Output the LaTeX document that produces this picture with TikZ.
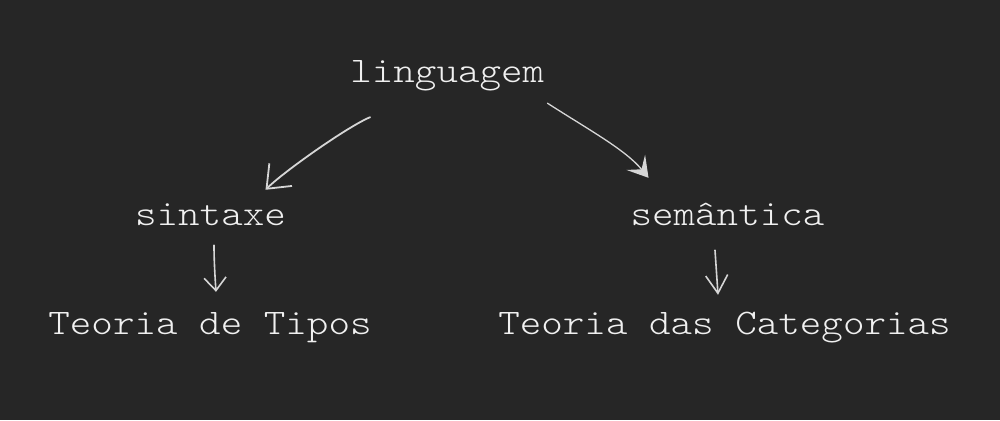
\documentclass[tikz,border=0pt]{standalone}
\usepackage{fontspec}
\setmonofont{Latin Modern Mono Light}[FakeStretch=1.14]
\usepackage{tikz}
\usetikzlibrary{positioning,arrows.meta,calc}
\definecolor{board}{HTML}{262626}
\definecolor{chalk}{HTML}{F0F0F0}
\definecolor{stroke}{HTML}{D6D6D6}

\begin{document}
\begin{tikzpicture}[x=1pt,y=-1pt,
      term/.style={
        inner sep=0pt,
        anchor=base,
        text=chalk,
        text height=22pt,
        text depth=8pt,
        font=\ttfamily\fontsize{36}{40}\selectfont,
      },
      sketch/.style={
        draw=stroke,
        line width=1.6pt,
        line cap=round,
        line join=round,
      }]
      \fill[board] (0,0) rectangle (1000,420);
      \node[term] (ling) at (447.3,82) {linguagem};
      \node[term] (sin) at (210.5,225) {sintaxe};
      \node[term] (sem) at (727.5,225) {semântica};
      \node[term] (tipos) at (210,334) {Teoria de Tipos};
      \node[term] (cat) at (724.5,334) {Teoria das Categorias};
      \draw[sketch, line width=1.8pt, -{Straight Barb[length=20pt,width=32pt,line width=1.8pt]}]
        ($(ling.south west)+(20,27)$) .. controls +(-22,9) and +(18,-18) .. ($(sin.north)+(55,-13)$);
      \draw[sketch, line width=1.3pt, -{Stealth[length=20pt,width=24pt,inset=9pt,fill=stroke]}]
        ($(ling.south east)+(3,13)$) .. controls +(42,27) and +(-23,-28) .. ($(sem.north)+(-79,-25)$);
      \draw[sketch, -{Straight Barb[length=13pt,width=22pt]}]
        ($(sin.south)+(3.5,12)$) .. controls +(0,15) and +(-1,-15) .. ($(tipos.north)+(6,-20)$);
      \draw[sketch, -{Straight Barb[length=18pt,width=22pt]}]
        ($(sem.south)+(-12.5,17)$) .. controls +(1,15) and +(-1,-15) .. ($(cat.north)+(-6.5,-17)$);
    \end{tikzpicture}
\end{document}
